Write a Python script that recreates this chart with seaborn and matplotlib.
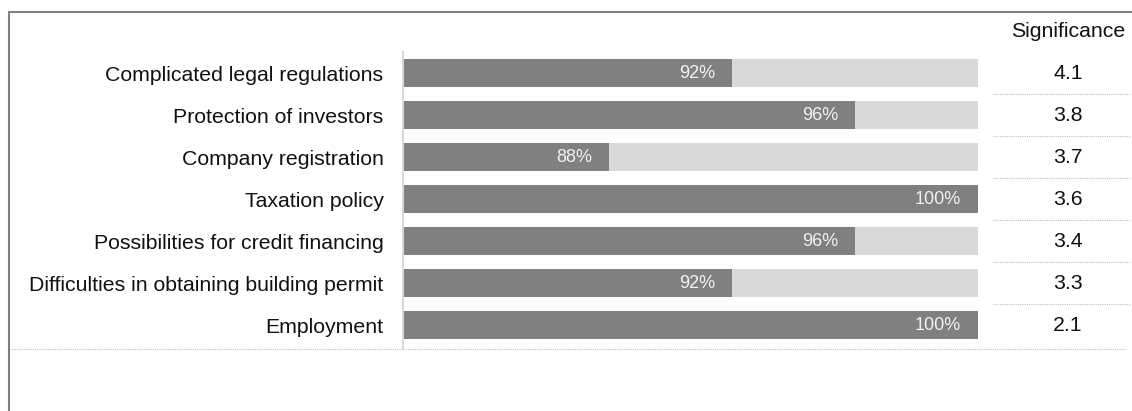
import matplotlib
matplotlib.use("Agg")
import matplotlib.pyplot as plt
import matplotlib.transforms as mtransforms
from matplotlib.lines import Line2D
import seaborn as sns
import pandas as pd

categories = [
    "Complicated legal regulations",
    "Protection of investors",
    "Company registration",
    "Taxation policy",
    "Possibilities for credit financing",
    "Difficulties in obtaining building permit",
    "Employment",
]
shares = [92, 96, 88, 100, 96, 92, 100]
full = [100, 100, 100, 100, 100, 100, 100]
significance = [4.1, 3.8, 3.7, 3.6, 3.4, 3.3, 2.1]
header = "Significance"

sns.set_theme(style="white")
plt.rcParams["font.family"] = ["Liberation Sans", "DejaVu Sans"]

W, H = 1132, 411
fig = plt.figure(figsize=(W / 100, H / 100), dpi=100)

def fx(px):
    return px / W

def fy(py):
    return 1 - py / H

ax = fig.add_axes([fx(403), fy(346), fx(978) - fx(403), fy(52) - fy(346)])

df = pd.DataFrame({"cat": categories, "share": shares, "full": full})
sns.barplot(data=df, y="cat", x="full", orient="h", color="#d9d9d9",
            width=0.667, saturation=1, ax=ax, linewidth=0)
sns.barplot(data=df, y="cat", x="share", orient="h", color="#808080",
            width=0.667, saturation=1, ax=ax, linewidth=0)

FS = 15.3
ax.set_xlim(81.3, 100)
ax.set_ylim(len(categories) - 0.5, -0.5)
ax.set_xlabel("")
ax.set_ylabel("")
ax.set_xticks([])
ax.tick_params(axis="y", length=0, pad=14, labelsize=FS, labelcolor="#111111")
for s in ["top", "right", "bottom"]:
    ax.spines[s].set_visible(False)
ax.spines["left"].set_color("#d9d9d9")
ax.spines["left"].set_linewidth(1.5)
ax.spines["left"].set_bounds(-0.5, 6.58)

# value labels inside bars
off = 17 / 30.75
for i, v in enumerate(shares):
    ax.text(v - off, i, f"{v}%", ha="right", va="center", color="#f2f2f2",
            fontsize=13)

# significance column
tr = mtransforms.blended_transform_factory(fig.transFigure, ax.transData)
for i, s in enumerate(significance):
    ax.text(fx(1068), i, f"{s}", transform=tr, ha="center", va="center",
            fontsize=FS, color="#111111", clip_on=False)
ax.text(fx(1068), -0.98, header, transform=tr, ha="center", va="center",
        fontsize=FS, color="#111111", clip_on=False)
for i in range(len(categories) - 1):
    ax.add_line(Line2D([fx(993), fx(1130)], [i + 0.5, i + 0.5], transform=tr,
                       color="#bfbfbf", lw=0.8, ls=(0, (1, 1)), clip_on=False))
ax.add_line(Line2D([fx(10), fx(1126)], [6.58, 6.58], transform=tr,
                   color="#bfbfbf", lw=0.8, ls=(0, (1, 1)), clip_on=False))

# outer frame (top and left)
fig.add_artist(Line2D([fx(9), 1], [fy(12), fy(12)], color="#808080", lw=1.5))
fig.add_artist(Line2D([fx(9), fx(9)], [fy(12), 0], color="#808080", lw=1.5))

fig.savefig("out.png", dpi=100)
